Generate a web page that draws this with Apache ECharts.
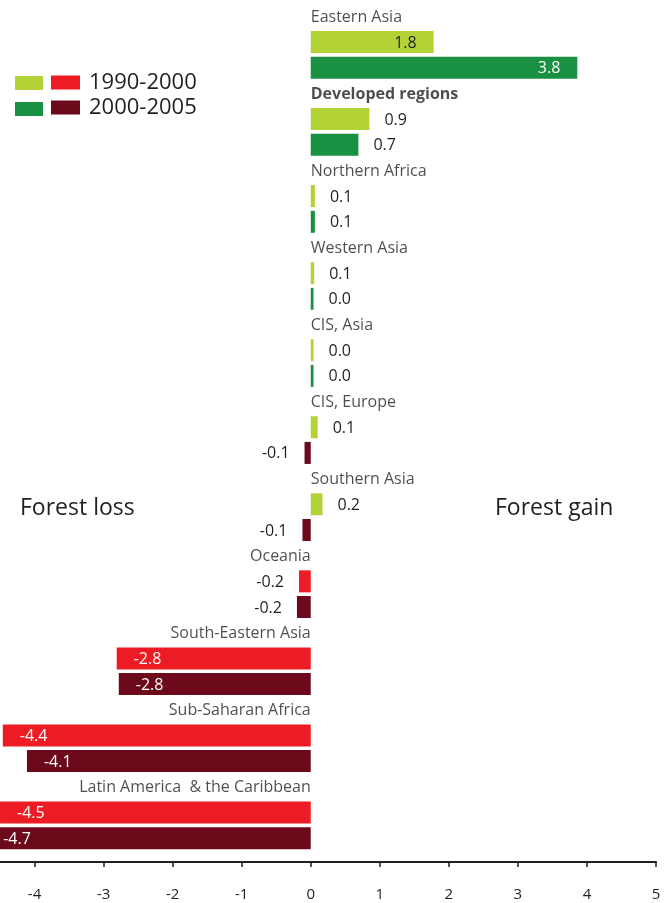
<!DOCTYPE html>
<html><head><meta charset="utf-8">
<script src="https://cdn.jsdelivr.net/npm/echarts@6/dist/echarts.min.js"></script>
<style>html,body{margin:0;padding:0;background:#fff}#c{width:664px;height:903px}</style>
</head><body><div id="c"></div>
<script>
const regions = ['Eastern Asia','Developed regions','Northern Africa','Western Asia','CIS, Asia','CIS, Europe','Southern Asia','Oceania','South-Eastern Asia','Sub-Saharan Africa','Latin America  & the Caribbean'];
const boldRegions = ['Developed regions'];
const values1990 = [1.78, 0.85, 0.06, 0.05, 0.04, 0.1, 0.17, -0.17, -2.81, -4.46, -4.5];
const values2000 = [3.86, 0.69, 0.06, 0.04, 0.04, -0.09, -0.12, -0.2, -2.78, -4.11, -4.7];
const labels1990 = ['1.8','0.9','0.1','0.1','0.0','0.1','0.2','-0.2','-2.8','-4.4','-4.5'];
const labels2000 = ['3.8','0.7','0.1','0.0','0.0','-0.1','-0.1','-0.2','-2.8','-4.1','-4.7'];
const seriesNames = ['1990-2000','2000-2005'];
const xTicks = {min: -5, max: 5, step: 1};

const C = {lg:'#b3d236', dg:'#1a9142', red:'#ed1c24', mar:'#6c0a1c', text:'#231f20'};
const FONT = 'Open Sans';

const cats = [];
regions.forEach((r,i)=>{cats.push('L'+i,'A'+i,'B'+i);});

function barItem(v, txt, pos, neg){
  const big = Math.abs(v) >= 1.5;
  const color = v >= 0 ? pos : neg;
  return {
    value: v,
    itemStyle: {color},
    label: {
      show: true,
      formatter: txt,
      position: big ? (v>0?'insideRight':'insideLeft') : (v>=0?'right':'left'),
      distance: big ? 17 : 15,
      color: big ? (color===C.lg ? C.text : '#fff') : C.text,
      fontSize: 16, fontFamily: FONT, offset:[0,1]
    }
  };
}
const d1990 = cats.map(()=>null), d2000 = cats.map(()=>null), dLab = [];
regions.forEach((r,i)=>{
  d1990[3*i+1] = barItem(values1990[i], labels1990[i], C.lg, C.red);
  d2000[3*i+2] = barItem(values2000[i], labels2000[i], C.dg, C.mar);
  const left = values1990[i] < 0 && values2000[i] < 0;
  dLab.push({value:[0,'L'+i], name:r, label:{show:true, formatter:r, position: left?'left':'right', distance:0,
    fontWeight: boldRegions.includes(r)?'bold':'normal', fontSize:16, fontFamily:FONT, color:C.text, offset:[0,1]}});
});

const chart = echarts.init(document.getElementById('c'), null, {renderer:'canvas'});
chart.setOption({
  animation:false,
  backgroundColor:'#fff',
  grid:{left:-34.5, right:8, top:3.5, bottom:52, containLabel:false, outerBoundsMode:'none'},
  xAxis:{type:'value', min:xTicks.min, max:xTicks.max, interval:xTicks.step, offset:11,
    axisLine:{show:true, lineStyle:{color:C.text, width:2}},
    axisTick:{show:true, length:5, lineStyle:{color:C.text, width:1.5}},
    axisLabel:{color:C.text, fontSize:15, fontFamily:FONT, margin:25},
    splitLine:{show:false}},
  yAxis:{type:'category', data:cats, inverse:true, show:false},
  legend:[
    {left:10, top:71, orient:'vertical', itemWidth:28, itemHeight:14, itemGap:12, selectedMode:false, icon:'rect',
      formatter:()=> '', textStyle:{fontSize:22, lineHeight:14},
      data:[{name:seriesNames[0], itemStyle:{color:C.lg}},{name:seriesNames[1], itemStyle:{color:C.dg}}]},
    {left:46, top:66.5, orient:'vertical', itemWidth:29, itemHeight:14, itemGap:3, selectedMode:false, icon:'rect',
      textStyle:{fontSize:22, fontFamily:FONT, color:C.text, padding:[0,0,0,4]},
      data:[{name:seriesNames[0], itemStyle:{color:C.red}},{name:seriesNames[1], itemStyle:{color:C.mar}}]}
  ],
  graphic:[
    {type:'text', left:20, top:497, style:{text:'Forest loss', font:'23px "Open Sans"', fill:C.text}},
    {type:'text', left:495, top:497, style:{text:'Forest gain', font:'23px "Open Sans"', fill:C.text}}
  ],
  series:[
    {name:seriesNames[0], type:'bar', data:d1990, barWidth:22, barGap:'-100%'},
    {name:seriesNames[1], type:'bar', data:d2000, barWidth:22, barGap:'-100%'},
    {name:'regions', type:'scatter', data:dLab, symbolSize:0.01, itemStyle:{color:'rgba(0,0,0,0)'}, silent:true}
  ]
});
</script></body></html>
